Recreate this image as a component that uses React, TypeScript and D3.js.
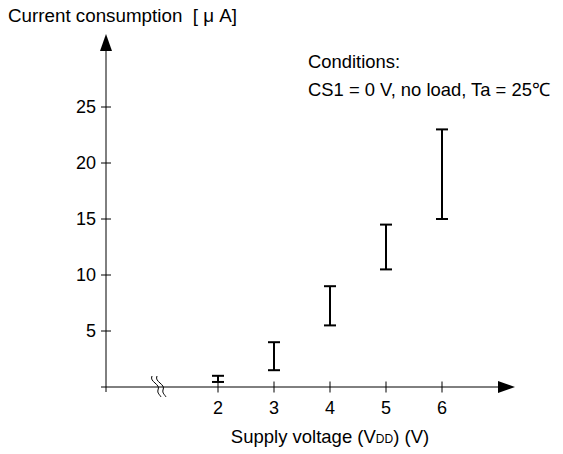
import React from "react";
import * as d3 from "d3";

const voltages = [2, 3, 4, 5, 6];
const minCurrent = [0.45, 1.5, 5.5, 10.5, 15];
const maxCurrent = [1.0, 4.0, 9.0, 14.5, 23];
const yTicks = [5, 10, 15, 20, 25];
const xTicks = [2, 3, 4, 5, 6];

const W = 563;
const H = 454;
const FONT = "'Liberation Sans', Arial, sans-serif";

export default function App() {
  const x = d3.scaleLinear().domain([2, 6]).range([218, 442]);
  const y = d3.scaleLinear().domain([0, 25]).range([387, 107]);
  const x0 = 106;
  const y0 = y(0);
  const breakPath = (dx: number) => {
    const p = d3.path();
    const bx = 152 + dx;
    p.moveTo(bx, 376);
    p.bezierCurveTo(bx - 3, 382, bx + 9, 384, bx + 6, 390);
    p.bezierCurveTo(bx + 5, 393, bx + 8, 395, bx + 9, 397);
    return p.toString();
  };
  return (
    <svg width={W} height={H} style={{ position: "absolute", left: 0, top: 0 }}>
      <rect width={W} height={H} fill="#fff" />
      <g fontFamily={FONT} fill="#000">
        <text x={8} y={22} fontSize={18.8} xmlSpace="preserve" style={{ whiteSpace: "pre" }}>
          {"Current consumption  [ μ A]"}
        </text>
        <text x={308} y={68} fontSize={18.4}>Conditions:</text>
        <text x={308} y={96} fontSize={18.4}>CS1 = 0 V, no load, Ta = 25℃</text>
        {/* axes */}
        <line x1={x0} x2={x0} y1={50} y2={392} stroke="#000" strokeWidth={1} />
        <line x1={101} x2={500} y1={y0} y2={y0} stroke="#000" strokeWidth={1} />
        <path d={`M${x0},34 L${x0 - 6},51 L${x0 + 6},51 Z`} fill="#000" />
        <path d={`M515,${y0} L498,${y0 - 6} L498,${y0 + 6} Z`} fill="#000" />
        {yTicks.map((t) => (
          <g key={"y" + t}>
            <line x1={x0 - 5} x2={x0 + 5} y1={y(t)} y2={y(t)} stroke="#000" />
            <text x={96} y={y(t) + 6} fontSize={18} textAnchor="end">{t}</text>
          </g>
        ))}
        {xTicks.map((t) => (
          <g key={"x" + t}>
            <line x1={x(t)} x2={x(t)} y1={y0 - 5.5} y2={y0 + 5.5} stroke="#000" />
            <text x={x(t)} y={414} fontSize={18} textAnchor="middle">{t}</text>
          </g>
        ))}
        <path d={breakPath(0)} fill="none" stroke="#000" strokeWidth={1} />
        <path d={breakPath(5)} fill="none" stroke="#000" strokeWidth={1} />
        <text x={330} y={443} fontSize={18.5} textAnchor="middle">
          Supply voltage (V<tspan fontSize={12}>DD</tspan>) (V)
        </text>
        {voltages.map((v, i) => (
          <g key={"e" + v} stroke="#000" strokeWidth={2}>
            <line x1={x(v)} x2={x(v)} y1={y(minCurrent[i])} y2={y(maxCurrent[i])} />
            <line x1={x(v) - 6} x2={x(v) + 6} y1={y(minCurrent[i])} y2={y(minCurrent[i])} />
            <line x1={x(v) - 6} x2={x(v) + 6} y1={y(maxCurrent[i])} y2={y(maxCurrent[i])} />
          </g>
        ))}
      </g>
    </svg>
  );
}
